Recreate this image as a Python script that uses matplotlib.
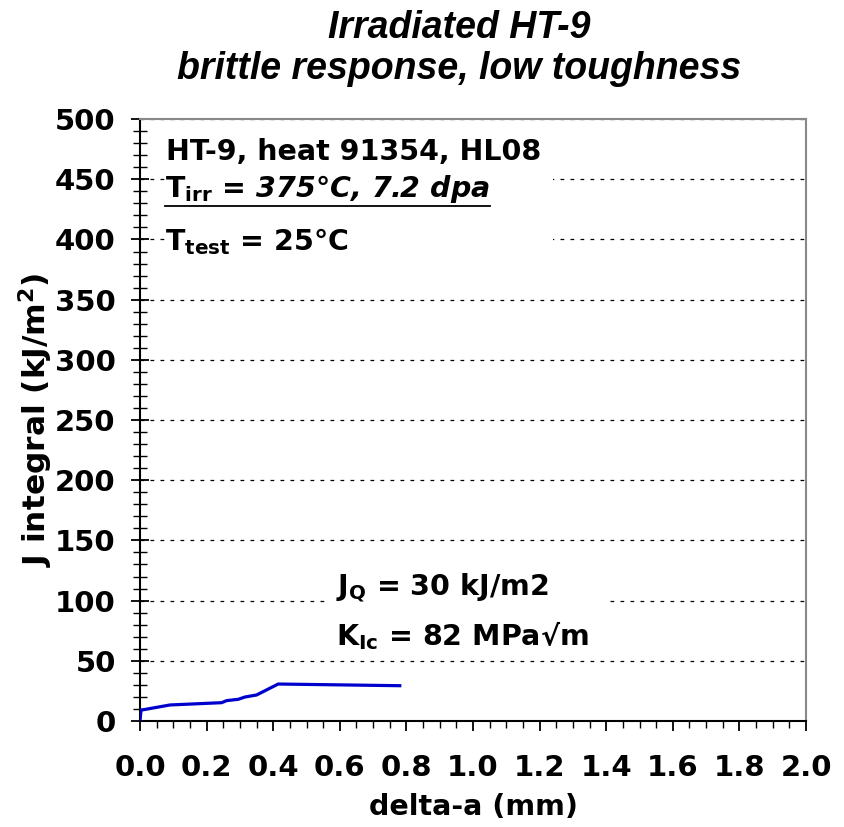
import matplotlib
matplotlib.use('Agg')
import matplotlib.pyplot as plt
from matplotlib.ticker import MultipleLocator
from matplotlib.patches import Rectangle
from matplotlib.lines import Line2D

# J-R curve
delta_a = [0.0, 0.003, 0.09, 0.245, 0.26, 0.295, 0.315, 0.35, 0.415, 0.78]
j_int = [0.0, 9.0, 13.3, 15.2, 16.9, 18.0, 19.9, 21.6, 30.7, 29.3]

title = 'Irradiated HT-9\nbrittle response, low toughness'
info_lines = ['HT-9, heat 91354, HL08', 'T_irr = 375°C, 7.2 dpa', 'T_test = 25°C']
result_lines = ['J_Q = 30 kJ/m2', 'K_Ic = 82 MPa√m']

plt.rcParams['font.family'] = ['DejaVu Sans']
plt.rcParams['font.weight'] = 'bold'
plt.rcParams['mathtext.fontset'] = 'custom'
plt.rcParams['mathtext.rm'] = 'DejaVu Sans:bold'
plt.rcParams['mathtext.bf'] = 'DejaVu Sans:bold'
plt.rcParams['mathtext.it'] = 'DejaVu Sans:bold:italic'

fig = plt.figure(figsize=(8.44, 8.27), dpi=100)
ax = fig.add_axes([0.1659, 0.1282, 0.955 - 0.1659, 0.856 - 0.1282])

ax.plot(delta_a, j_int, color='#0000CC', lw=2.3, zorder=5)

ax.set_xlim(0, 2.0)
ax.set_ylim(0, 500)
ax.xaxis.set_major_locator(MultipleLocator(0.2))
ax.xaxis.set_minor_locator(MultipleLocator(0.05))
ax.yaxis.set_major_locator(MultipleLocator(50))
ax.yaxis.set_minor_locator(MultipleLocator(10))
ax.xaxis.set_major_formatter(plt.FormatStrFormatter('%.1f'))

ax.tick_params(axis='x', which='major', direction='out', length=7, width=1.3, pad=17, labelsize=21)
ax.tick_params(axis='x', which='minor', direction='out', length=5, width=1.0)
ax.tick_params(axis='y', which='major', direction='inout', length=13, width=1.3, pad=11, labelsize=21)
ax.tick_params(axis='y', which='minor', direction='inout', length=9.5, width=1.0)
for lab in ax.get_xticklabels() + ax.get_yticklabels():
    lab.set_fontweight('bold')

ax.grid(axis='y', which='major', color='black', lw=0.9, linestyle=(0, (3, 5)), zorder=0)
ax.set_axisbelow(True)

for s in ['left', 'bottom']:
    ax.spines[s].set_color('black')
    ax.spines[s].set_linewidth(1.5)
for s in ['top', 'right']:
    ax.spines[s].set_color('#888888')
    ax.spines[s].set_linewidth(1.5)

ax.set_xlabel('delta-a (mm)', fontsize=20.5, fontweight='bold', labelpad=8)
ax.set_ylabel(r'J integral (kJ/m$^\mathbf{2}$)', fontsize=22.5, fontweight='bold', labelpad=0)

fig.text(0.544, 0.988, title, ha='center', va='top', fontsize=27,
         fontweight='bold', fontstyle='italic',
         family=['Liberation Sans Narrow', 'Liberation Sans', 'DejaVu Sans'],
         linespacing=1.17)

# white boxes hiding the grid behind the notes
ax.add_patch(Rectangle((0.075, 388), 1.165, 108, facecolor='white', edgecolor='none', zorder=2))
ax.add_patch(Rectangle((0.57, 54), 0.83, 80, facecolor='white', edgecolor='none', zorder=2))

fs = 20.5
ax.text(0.078, 473, info_lines[0], fontsize=fs, fontweight='bold', va='center', zorder=6)
t_irr = ax.text(0.075, 442, r'$\mathbf{T}_\mathbf{irr}$' + info_lines[1][5:], fontsize=fs,
                fontweight='bold', fontstyle='italic', va='center', zorder=6)
ax.text(0.075, 398, r'$\mathbf{T}_\mathbf{test}$' + info_lines[2][6:], fontsize=fs,
        fontweight='bold', va='center', zorder=6)

ax.text(0.59, 111, r'J$_\mathbf{Q}$' + result_lines[0][3:], fontsize=fs, fontweight='bold',
        va='center', zorder=6)
ax.text(0.59, 71, r'K$_\mathbf{Ic}$' + result_lines[1][4:], fontsize=fs, fontweight='bold',
        va='center', zorder=6)

# underline of the irradiation line
fig.canvas.draw()
bb = t_irr.get_window_extent().transformed(ax.transData.inverted())
ax.add_line(Line2D([bb.x0, bb.x1], [bb.y0 - 1, bb.y0 - 1], color='black', lw=1.3, zorder=6))

fig.savefig('out.png', dpi=100)
